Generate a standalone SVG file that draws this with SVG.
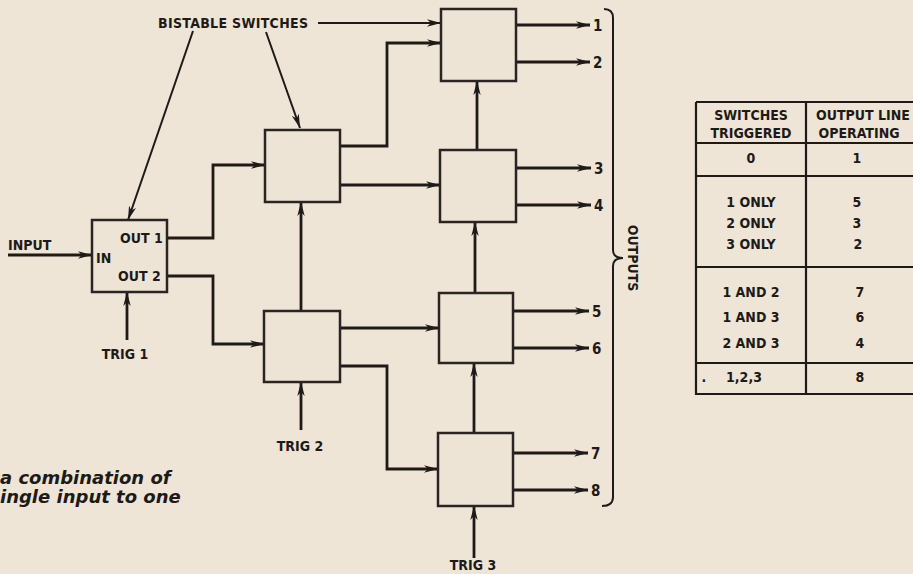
<svg xmlns="http://www.w3.org/2000/svg" width="913" height="574" viewBox="0 0 913 574">
<defs>
<marker id="ah" viewBox="0 0 14 8" refX="14" refY="4" markerWidth="14" markerHeight="8" markerUnits="userSpaceOnUse" orient="auto">
<path d="M0,0.3 L14,4 L0,7.7 L4,4 z" fill="#1d1a17"/>
</marker>
<style>
.bg{fill:#eee5d6}
.box{fill:#ede4d5;stroke:#2a2522;stroke-width:2.5}
.w{fill:none;stroke:#1d1a17;stroke-width:2.8}
.p{fill:none;stroke:#1d1a17;stroke-width:2}
.a{marker-end:url(#ah)}
.t{font-family:"DejaVu Sans Condensed","DejaVu Sans",sans-serif;font-weight:bold;fill:#1d1a17;font-size:14px}
.tn{font-size:15px}
.c{text-anchor:middle}
.cap{font-family:"DejaVu Sans","Open Sans",sans-serif;font-weight:bold;font-style:italic;font-size:18px;fill:#1d1a17}
.tl{stroke:#1d1a17;stroke-width:2.2;fill:none}
</style>
</defs>
<rect class="bg" x="0" y="0" width="913" height="574"/>

<g id="connectors">
<path class="w a" d="M8,255 H92"/>
<path class="w a" d="M167,238 H213 V165 H265"/>
<path class="w a" d="M167,276 H213 V344 H264"/>
<path class="w a" d="M127,340 V292"/>
<path class="w a" d="M340,146 H387 V43 H441"/>
<path class="w a" d="M340,185 H440"/>
<path class="w a" d="M301,311 V202"/>
<path class="w a" d="M301,430 V382"/>
<path class="w a" d="M340,328 H439"/>
<path class="w a" d="M340,366 H387 V469 H438"/>
<path class="w a" d="M477,150 V81"/>
<path class="w a" d="M475,293 V222"/>
<path class="w a" d="M474,433 V363"/>
<path class="w a" d="M474,558 V506"/>
<path class="w a" d="M516,25 H590"/>
<path class="w a" d="M516,62 H590"/>
<path class="w a" d="M516,168 H591"/>
<path class="w a" d="M516,205 H591"/>
<path class="w a" d="M513,311 H589"/>
<path class="w a" d="M513,348 H589"/>
<path class="w a" d="M513,453 H588"/>
<path class="w a" d="M513,490 H588"/>
<path class="p a" d="M193,31 L128,220"/>
<path class="p a" d="M266,32 L300,128"/>
<path class="p a" d="M318,23 H441"/>
<path class="p" d="M604,9 Q613,9 613,18 V250 Q613,258 623,258 Q613,258 613,266 V497 Q613,506 602,506"/>
</g>

<g id="switch1">
<rect class="box" x="92" y="220" width="75" height="72"/>
<text class="t" x="96" y="263">IN</text>
<text class="t" x="120" y="243">OUT 1</text>
<text class="t" x="118" y="281">OUT 2</text>
</g>
<g id="switch2a"><rect class="box" x="265" y="130" width="75" height="72"/></g>
<g id="switch2b"><rect class="box" x="264" y="311" width="76" height="71"/></g>
<g id="switch3a"><rect class="box" x="441" y="9" width="75" height="72"/></g>
<g id="switch3b"><rect class="box" x="440" y="150" width="76" height="72"/></g>
<g id="switch3c"><rect class="box" x="439" y="293" width="74" height="70"/></g>
<g id="switch3d"><rect class="box" x="438" y="433" width="75" height="73"/></g>

<g id="labels">
<text class="t" x="158" y="28" textLength="150">BISTABLE SWITCHES</text>
<text class="t" x="8" y="250">INPUT</text>
<text class="t" x="125" y="359" text-anchor="middle">TRIG 1</text>
<text class="t" x="300" y="451" text-anchor="middle">TRIG 2</text>
<text class="t" x="473" y="570" text-anchor="middle">TRIG 3</text>
<text class="t tn" x="593" y="31">1</text>
<text class="t tn" x="593" y="68">2</text>
<text class="t tn" x="594" y="174">3</text>
<text class="t tn" x="594" y="211">4</text>
<text class="t tn" x="592" y="317">5</text>
<text class="t tn" x="592" y="354">6</text>
<text class="t tn" x="591" y="459">7</text>
<text class="t tn" x="591" y="496">8</text>
<text class="t" transform="translate(628,258) rotate(90)" text-anchor="middle">OUTPUTS</text>
<text class="cap" x="0" y="484">a combination of</text>
<text class="cap" x="0" y="503">ingle input to one</text>
</g>

<g id="table">
<path class="tl" d="M696,102 H913 M696,102 V394 H913 M806,102 V394 M696,143 H913 M696,176 H913 M696,267 H913 M696,363 H913"/>
<g class="t c">
<text x="751" y="120">SWITCHES</text>
<text x="751" y="138">TRIGGERED</text>
<text x="863" y="120">OUTPUT LINE</text>
<text x="859" y="138">OPERATING</text>
<text x="751" y="163">0</text>
<text x="857" y="163">1</text>
<text x="751" y="207">1 ONLY</text>
<text x="857" y="207">5</text>
<text x="751" y="228">2 ONLY</text>
<text x="857" y="228">3</text>
<text x="751" y="249">3 ONLY</text>
<text x="858" y="249">2</text>
<text x="751" y="297">1 AND 2</text>
<text x="860" y="297">7</text>
<text x="751" y="322">1 AND 3</text>
<text x="860" y="322">6</text>
<text x="751" y="348">2 AND 3</text>
<text x="860" y="348">4</text>
<text x="744" y="382">1,2,3</text>
<text x="860" y="382">8</text>
<text x="704" y="382">.</text>
</g>
</g>
</svg>
